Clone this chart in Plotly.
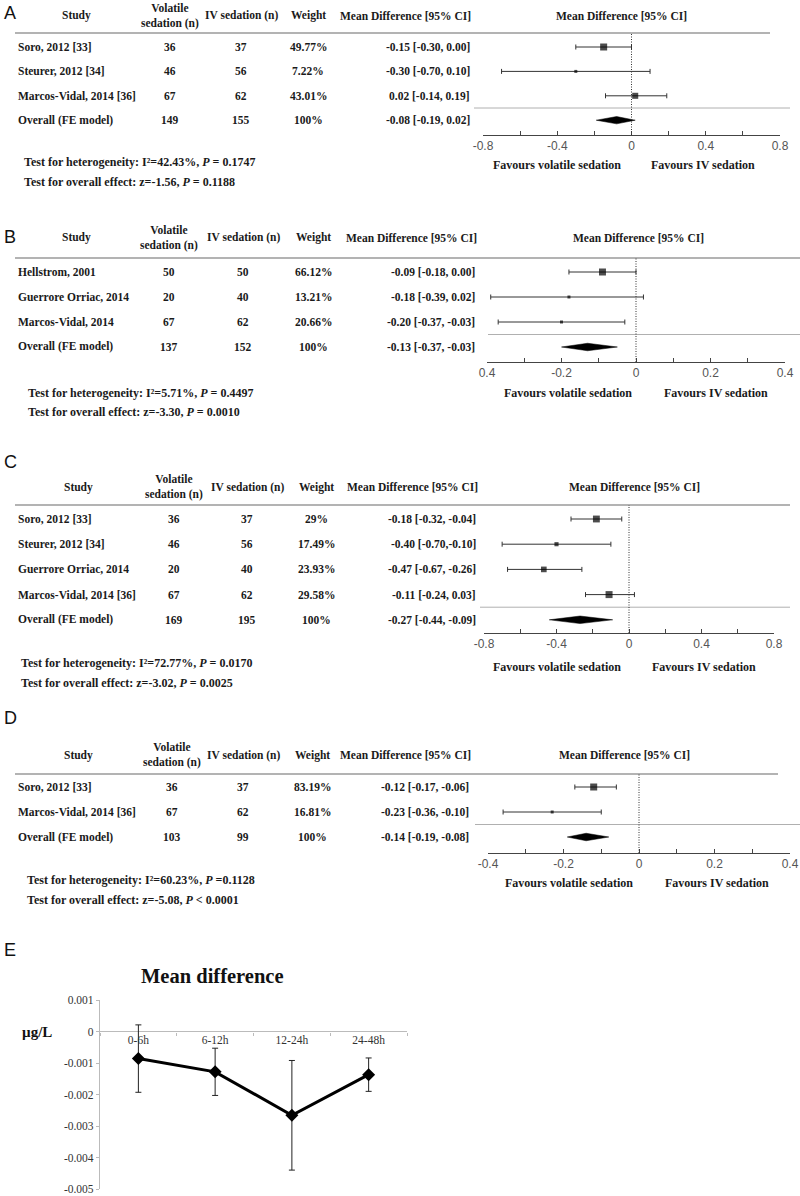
import plotly.graph_objects as go

W, H = 800, 1196

# ---------------- Panel A data ----------------
A_study = ["Soro, 2012 [33]", "Steurer, 2012 [34]", "Marcos-Vidal, 2014 [36]", "Overall (FE model)"]
A_vol = [36, 46, 67, 149]
A_iv = [37, 56, 62, 155]
A_weight = [49.77, 7.22, 43.01, 100]
A_md = [-0.15, -0.30, 0.02, -0.08]
A_lo = [-0.30, -0.70, -0.14, -0.19]
A_hi = [0.00, 0.10, 0.19, 0.02]
A_ci_text = ["-0.15 [-0.30, 0.00]", "-0.30 [-0.70, 0.10]", "0.02 [-0.14, 0.19]", "-0.08 [-0.19, 0.02]"]
A_het = "Test for heterogeneity: I²=42.43%, <i>P</i> = 0.1747"
A_eff = "Test for overall effect: z=-1.56, <i>P</i> = 0.1188"
A_tickvals = [-0.8, -0.6, -0.4, -0.2, 0, 0.2, 0.4, 0.6, 0.8]
A_ticktext = ["-0.8", "", "-0.4", "", "0", "", "0.4", "", "0.8"]

# ---------------- Panel B data ----------------
B_study = ["Hellstrom, 2001", "Guerrore Orriac, 2014", "Marcos-Vidal, 2014", "Overall (FE model)"]
B_vol = [50, 20, 67, 137]
B_iv = [50, 40, 62, 152]
B_weight = [66.12, 13.21, 20.66, 100]
B_md = [-0.09, -0.18, -0.20, -0.13]
B_lo = [-0.18, -0.39, -0.37, -0.20]
B_hi = [0.00, 0.02, -0.03, -0.05]
B_ci_text = ["-0.09 [-0.18, 0.00]", "-0.18 [-0.39, 0.02]", "-0.20 [-0.37, -0.03]", "-0.13 [-0.37, -0.03]"]
B_het = "Test for heterogeneity: I²=5.71%, <i>P</i> = 0.4497"
B_eff = "Test for overall effect: z=-3.30, <i>P</i> = 0.0010"
B_tickvals = [-0.4, -0.3, -0.2, -0.1, 0, 0.1, 0.2, 0.3, 0.4]
B_ticktext = ["0.4", "", "-0.2", "", "0", "", "0.2", "", "0.4"]

# ---------------- Panel C data ----------------
C_study = ["Soro, 2012 [33]", "Steurer, 2012 [34]", "Guerrore Orriac, 2014", "Marcos-Vidal, 2014 [36]", "Overall (FE model)"]
C_vol = [36, 46, 20, 67, 169]
C_iv = [37, 56, 40, 62, 195]
C_weight = [29, 17.49, 23.93, 29.58, 100]
C_md = [-0.18, -0.40, -0.47, -0.11, -0.27]
C_lo = [-0.32, -0.70, -0.67, -0.24, -0.44]
C_hi = [-0.04, -0.10, -0.26, 0.03, -0.09]
C_ci_text = ["-0.18 [-0.32, -0.04]", "-0.40 [-0.70,-0.10]", "-0.47 [-0.67, -0.26]", "-0.11 [-0.24, 0.03]", "-0.27 [-0.44, -0.09]"]
C_het = "Test for heterogeneity: I²=72.77%, <i>P</i> = 0.0170"
C_eff = "Test for overall effect: z=-3.02, <i>P</i> = 0.0025"
C_tickvals = [-0.8, -0.6, -0.4, -0.2, 0, 0.2, 0.4, 0.6, 0.8]
C_ticktext = ["-0.8", "", "-0.4", "", "0", "", "0.4", "", "0.8"]

# ---------------- Panel D data ----------------
D_study = ["Soro, 2012 [33]", "Marcos-Vidal, 2014 [36]", "Overall (FE model)"]
D_vol = [36, 67, 103]
D_iv = [37, 62, 99]
D_weight = [83.19, 16.81, 100]
D_md = [-0.12, -0.23, -0.14]
D_lo = [-0.17, -0.36, -0.19]
D_hi = [-0.06, -0.10, -0.08]
D_ci_text = ["-0.12 [-0.17, -0.06]", "-0.23 [-0.36, -0.10]", "-0.14 [-0.19, -0.08]"]
D_het = "Test for heterogeneity: I²=60.23%, <i>P</i> =0.1128"
D_eff = "Test for overall effect: z=-5.08, <i>P</i> < 0.0001"
D_tickvals = [-0.4, -0.3, -0.2, -0.1, 0, 0.1, 0.2, 0.3, 0.4]
D_ticktext = ["-0.4", "", "-0.2", "", "0", "", "0.2", "", "0.4"]

# ---------------- Panel E data ----------------
E_time = ["0-6h", "6-12h", "12-24h", "24-48h"]
E_md = [-0.00086, -0.00128, -0.00266, -0.00137]
E_err = [0.00107, 0.00075, 0.00174, 0.00053]
E_yticks = [0.001, 0, -0.001, -0.002, -0.003, -0.004, -0.005]
E_yticktext = ["0.001", "0", "-0.001", "-0.002", "-0.003", "-0.004", "-0.005"]

HEADERS = ["Study", "Volatile<br>sedation (n)", "IV sedation (n)", "Weight", "Mean Difference [95% CI]"]
FAV = ["Favours volatile sedation", "Favours IV sedation"]

SERIF = "Liberation Serif, Times New Roman, serif"
SANS = "Liberation Sans, Arial, sans-serif"
TXT = "#1a1a1a"


def px(x):
    return x / W


def py(y):
    return 1 - y / H


panels = [
    dict(letter="A", study=A_study, vol=A_vol, iv=A_iv, w=A_weight, md=A_md, lo=A_lo, hi=A_hi,
         ci=A_ci_text, het=A_het, eff=A_eff, tv=A_tickvals, tt=A_ticktext,
         label_y=13, head_y=16, head_line=33, axis_y=135, row0=47, sp=24.4,
         ax_x=(483, 780), sep_x=(474, 790), hl_x=(15, 770), cols=(16, 170, 241, 308, 472),
         md_head=405, forest_head=621, fav=(557, 703), fav_y=165, test_x=22, test_y=(162, 182)),
    dict(letter="B", study=B_study, vol=B_vol, iv=B_iv, w=B_weight, md=B_md, lo=B_lo, hi=B_hi,
         ci=B_ci_text, het=B_het, eff=B_eff, tv=B_tickvals, tt=B_ticktext,
         label_y=237, head_y=238, head_line=258, axis_y=362, row0=272, sp=25,
         ax_x=(487, 785), sep_x=(488, 800), hl_x=(15, 800), cols=(16, 169, 243, 313, 477),
         md_head=411, forest_head=638, fav=(568, 716), fav_y=393, test_x=26, test_y=(393, 412)),
    dict(letter="C", study=C_study, vol=C_vol, iv=C_iv, w=C_weight, md=C_md, lo=C_lo, hi=C_hi,
         ci=C_ci_text, het=C_het, eff=C_eff, tv=C_tickvals, tt=C_ticktext,
         label_y=462, head_y=487, head_line=505, axis_y=633, row0=519, sp=25.2,
         ax_x=(484, 774), sep_x=(480, 790), hl_x=(15, 790), cols=(16, 174, 247, 316, 478),
         md_head=412, forest_head=634, fav=(557, 704), fav_y=667, test_x=19, test_y=(663, 683)),
    dict(letter="D", study=D_study, vol=D_vol, iv=D_iv, w=D_weight, md=D_md, lo=D_lo, hi=D_hi,
         ci=D_ci_text, het=D_het, eff=D_eff, tv=D_tickvals, tt=D_ticktext,
         label_y=718, head_y=755, head_line=774, axis_y=853, row0=787, sp=25,
         ax_x=(488, 790), sep_x=(475, 800), hl_x=(15, 778), cols=(16, 172, 243, 312, 471),
         md_head=406, forest_head=624, fav=(569, 717), fav_y=883, test_x=25, test_y=(880, 900)),
]

fig = go.Figure()
annotations = []
shapes = []
layout_axes = {}

for k, p in enumerate(panels, start=1):
    xa = "x" if k == 1 else f"x{k}"
    ya = "y" if k == 1 else f"y{k}"
    xkey = "xaxis" if k == 1 else f"xaxis{k}"
    ykey = "yaxis" if k == 1 else f"yaxis{k}"
    n = len(p["study"])
    nstud = n - 1
    rows = list(range(n))
    wmax = max(p["w"][:nstud])

    # y axis in row units, mapped so rows sit at their pixel positions
    y_bottom = (p["axis_y"] - p["row0"]) / p["sp"]
    y_top = (p["head_line"] - p["row0"]) / p["sp"]
    layout_axes[ykey] = dict(domain=[py(p["axis_y"]), py(p["head_line"])], range=[y_bottom, y_top],
                             visible=False, anchor=xa, fixedrange=True, automargin=False)
    rng = max(abs(v) for v in p["tv"])
    layout_axes[xkey] = dict(domain=[px(p["ax_x"][0]), px(p["ax_x"][1])], range=[-rng, rng], anchor=ya,
                             tickmode="array", tickvals=p["tv"], ticktext=p["tt"],
                             ticks="inside", ticklen=4, tickcolor="#444", tickwidth=1,
                             showline=True, linecolor="#444", linewidth=1, showgrid=False, zeroline=False,
                             tickfont=dict(family=SANS, size=12, color="#555"), fixedrange=True,
                             automargin=False)

    # study estimates with CIs
    sizes = [max(3.0, 7.0 * w / wmax) for w in p["w"][:nstud]]
    fig.add_trace(go.Scatter(
        x=p["md"][:nstud], y=rows[:nstud], xaxis=xa, yaxis=ya, mode="markers",
        marker=dict(symbol="square", size=sizes, color="black", line=dict(width=0)),
        error_x=dict(type="data", symmetric=False,
                     array=[h - m for h, m in zip(p["hi"][:nstud], p["md"][:nstud])],
                     arrayminus=[m - l for m, l in zip(p["md"][:nstud], p["lo"][:nstud])],
                     color="#333", thickness=1, width=2.5),
        hoverinfo="skip", showlegend=False))

    # summary diamond
    r = rows[-1]
    h = 0.15
    fig.add_trace(go.Scatter(
        x=[p["lo"][-1], p["md"][-1], p["hi"][-1], p["md"][-1], p["lo"][-1]],
        y=[r, r - h, r, r + h, r], xaxis=xa, yaxis=ya, mode="lines", fill="toself",
        fillcolor="black", line=dict(color="black", width=0.5), hoverinfo="skip", showlegend=False))

    # lines
    shapes.append(dict(type="line", xref="paper", yref=f"{ya} domain", x0=px(p["hl_x"][0]), x1=px(p["hl_x"][1]),
                       y0=1, y1=1, line=dict(color="#9a9a9a", width=1.5)))
    shapes.append(dict(type="line", xref="paper", yref=ya, x0=px(p["sep_x"][0]), x1=px(p["sep_x"][1]),
                       y0=nstud - 0.5, y1=nstud - 0.5, line=dict(color="#b0b0b0", width=1)))
    shapes.append(dict(type="line", xref=xa, yref=f"{ya} domain", x0=0, x1=0, y0=0, y1=1,
                       line=dict(color="#333", width=1, dash="1px,1.5px")))

    # panel letter
    annotations.append(dict(text=p["letter"], xref="paper", yref="paper", x=px(2), y=py(p["label_y"]),
                            xanchor="left", yanchor="middle", showarrow=False,
                            font=dict(family=SANS, size=18, color="#111")))
    # headers
    cols = p["cols"]
    head_x = [76 if k < 3 else 78, cols[1], cols[2], cols[3], p["md_head"]]
    for hx, ht in zip(head_x, HEADERS):
        annotations.append(dict(text=f"<b>{ht}</b>", xref="paper", yref="paper", x=px(hx), y=py(p["head_y"]),
                                xanchor="center", yanchor="middle", showarrow=False,
                                font=dict(family=SERIF, size=11.5, color=TXT)))
    annotations.append(dict(text="<b>Mean Difference [95% CI]</b>", xref="paper", yref="paper",
                            x=px(p["forest_head"]), y=py(p["head_y"]), xanchor="center", yanchor="middle",
                            showarrow=False, font=dict(family=SERIF, size=11.5, color=TXT)))
    # table rows
    for i in rows:
        cells = [(p["study"][i], cols[0], "left"), (str(p["vol"][i]), cols[1], "center"),
                 (str(p["iv"][i]), cols[2], "center"), (f"{p['w'][i]:g}%", cols[3], "center"),
                 (p["ci"][i], cols[4], "right")]
        for txt, cx, anc in cells:
            annotations.append(dict(text=f"<b>{txt}</b>", xref="paper", yref=ya, x=px(cx), y=i,
                                    xanchor=anc, yanchor="middle", showarrow=False,
                                    font=dict(family=SERIF, size=11.5, color=TXT)))
    # favours
    for fx, ft in zip(p["fav"], FAV):
        annotations.append(dict(text=f"<b>{ft}</b>", xref="paper", yref="paper", x=px(fx), y=py(p["fav_y"]),
                                xanchor="center", yanchor="middle", showarrow=False,
                                font=dict(family=SERIF, size=12, color=TXT)))
    # tests
    for ty, tt in zip(p["test_y"], [p["het"], p["eff"]]):
        annotations.append(dict(text=f"<b>{tt}</b>", xref="paper", yref="paper", x=px(p["test_x"]), y=py(ty),
                                xanchor="left", yanchor="middle", showarrow=False,
                                font=dict(family=SERIF, size=12, color=TXT)))

# ---------------- Panel E ----------------
e_top, e_bot = 1000, 1189
e_left, e_right = 100, 407
ymin, ymax = min(E_yticks), max(E_yticks)
dom_b, dom_t = py(e_bot), py(e_top)
zero_pos = dom_b + (0 - ymin) / (ymax - ymin) * (dom_t - dom_b)

fig.add_trace(go.Scatter(
    x=E_time, y=E_md, xaxis="x5", yaxis="y5", mode="lines+markers",
    line=dict(color="black", width=3), marker=dict(symbol="diamond", size=10, color="black"),
    error_y=dict(type="data", array=E_err, color="#222", thickness=1, width=3),
    hoverinfo="skip", showlegend=False))

layout_axes["xaxis5"] = dict(domain=[px(e_left), px(e_right)], type="category", categoryorder="array",
                             categoryarray=E_time, range=[-0.5, len(E_time) - 0.5], anchor="free",
                             position=zero_pos, showline=False, showgrid=False, zeroline=False,
                             ticks="outside", tickson="boundaries", ticklen=3, tickcolor="#bbb",
                             tickfont=dict(family=SERIF, size=11.5, color="#333"), fixedrange=True,
                             automargin=False)
layout_axes["yaxis5"] = dict(domain=[dom_b, dom_t], range=[ymin, ymax], anchor="x5",
                             tickmode="array", tickvals=E_yticks, ticktext=E_yticktext,
                             showline=True, linecolor="#bbb", linewidth=1.2, ticks="outside", ticklen=3,
                             tickcolor="#bbb", showgrid=False, zeroline=True, zerolinecolor="#bbb",
                             zerolinewidth=1.2, tickfont=dict(family=SERIF, size=11.5, color="#333"),
                             fixedrange=True, automargin=False)

annotations.append(dict(text="E", xref="paper", yref="paper", x=px(2), y=py(950), xanchor="left",
                        yanchor="middle", showarrow=False, font=dict(family=SANS, size=18, color="#111")))
annotations.append(dict(text="<b>Mean difference</b>", xref="paper", yref="paper", x=px(212), y=py(976),
                        xanchor="center", yanchor="middle", showarrow=False,
                        font=dict(family=SERIF, size=20.5, color="#111")))
annotations.append(dict(text="<b>µg/L</b>", xref="paper", yref="paper", x=px(37), y=py(1032),
                        xanchor="center", yanchor="middle", showarrow=False,
                        font=dict(family=SERIF, size=15, color="#111")))

fig.update_layout(width=W, height=H, margin=dict(l=0, r=0, t=0, b=0, pad=0), paper_bgcolor="white",
                  plot_bgcolor="rgba(0,0,0,0)", annotations=annotations, shapes=shapes,
                  template="none", **layout_axes)

fig.write_html("out.html", config={"responsive": False, "displayModeBar": False},
               default_width="800px", default_height="1196px",
               post_script="document.body.style.margin='0px';document.body.style.padding='0px';")
